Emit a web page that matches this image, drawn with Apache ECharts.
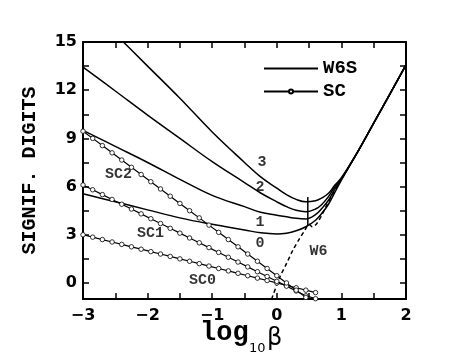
<!DOCTYPE html>
<html>
<head>
<meta charset="utf-8">
<script src="https://cdn.jsdelivr.net/npm/echarts@6/dist/echarts.min.js"></script>
<style>
  html, body { margin: 0; padding: 0; background: #fff; }
  #chart { width: 471px; height: 360px; }
</style>
</head>
<body>
<div id="chart"></div>
<script>
// x positions of the SC markers (log10 beta)
var xSC = [-3, -2.85, -2.7, -2.55, -2.4, -2.25, -2.1, -1.95, -1.8, -1.65, -1.5, -1.35, -1.2,
  -1.05, -0.9, -0.75, -0.6, -0.45, -0.3, -0.15, 0, 0.15, 0.3, 0.45, 0.6]
var sc0 = [3.0, 2.85, 2.7, 2.55, 2.4, 2.25, 2.1, 1.95, 1.8, 1.65, 1.5, 1.35, 1.2,
  1.05, 0.9, 0.75, 0.6, 0.45, 0.3, 0.15, 0.0, -0.15, -0.3, -0.45, -0.6]
var sc1 = [6.1, 5.8, 5.5, 5.2, 4.9, 4.6, 4.3, 4.0, 3.7, 3.4, 3.1, 2.8, 2.5,
  2.2, 1.9, 1.6, 1.3, 1.0, 0.7, 0.4, 0.1, -0.2, -0.5, -0.8, -0.98]
var sc2 = [9.45, 9.0, 8.55, 8.1, 7.65, 7.2, 6.75, 6.3, 5.85, 5.4, 4.95, 4.5, 4.05,
  3.6, 3.15, 2.7, 2.25, 1.8, 1.35, 0.9, 0.45, 0.0, -0.45, -0.9, null]

// W6S curves, order 0..3
var xW = [-3, -2.5, -2, -1.5, -1, -0.5, -0.25, 0, 0.15, 0.3, 0.45, 0.6, 0.7, 0.8, 0.9, 1.0, 1.25, 1.5, 1.75, 2.0]
var w6s0 = [5.55, 5.05, 4.55, 4.05, 3.65, 3.3, 3.12, 3.05, 3.1, 3.25, 3.5, 3.9, 4.35, 4.9, 5.65, 6.4, 8.15, 9.95, 11.75, 13.57]
var w6s1 = [9.5, 8.5, 7.5, 6.45, 5.45, 4.75, 4.4, 4.22, 4.12, 4.02, 3.98, 4.25, 4.65, 5.15, 5.85, 6.45, 8.15, 9.95, 11.75, 13.57]
var w6s2 = [13.44, 11.95, 10.45, 9.0, 7.55, 6.25, 5.6, 5.05, 4.75, 4.52, 4.43, 4.6, 4.9, 5.37, 6.0, 6.5, 8.15, 9.95, 11.75, 13.57]
var w6s3 = [17.5, 15.5, 13.5, 11.5, 9.4, 7.5, 6.6, 5.9, 5.5, 5.2, 5.05, 5.12, 5.3, 5.58, 6.1, 6.55, 8.15, 9.95, 11.75, 13.57]

// W6 (dashed)
var xW6 = [-0.08, 0.05, 0.15, 0.25, 0.35, 0.43, 0.5, 0.55, 0.62, 0.7, 0.78, 0.86, 0.95]
var w6 = [-1.0, 0.39, 1.2, 2.05, 2.75, 3.25, 3.65, 3.5, 3.7, 4.25, 4.9, 5.5, 6.1]

// vertical marker segment
var xMark = [0.48, 0.48]
var yMark = [3.6, 5.35]

// curve labels [x, y, text]
var curveLabels = [
  [-0.23, 7.53, '3'], [-0.26, 5.97, '2'], [-0.26, 3.75, '1'], [-0.26, 2.47, '0'],
  [0.645, 1.99, 'W6'], [-2.45, 6.78, 'SC2'], [-1.955, 3.11, 'SC1'], [-1.15, 0.19, 'SC0']
]

var xTicks = [-3, -2.5, -2, -1.5, -1, -0.5, 0, 0.5, 1, 1.5, 2]
var xLabels = [-3, -2, -1, 0, 1, 2]
var yTicks = [0, 1.5, 3, 4.5, 6, 7.5, 9, 10.5, 12, 13.5, 15]
var yLabels = [0, 3, 6, 9, 12, 15]

function pairs(xs, ys) {
  return xs.map(function (x, i) { return [x, ys[i]] })
}

var mono = '"Liberation Mono", "Courier New", monospace'
var sans = '"DejaVu Sans", sans-serif'

var chart = echarts.init(document.getElementById('chart'))

function w6sSeries(ys) {
  return {
    name: 'W6S',
    type: 'line',
    smooth: 0.4,
    symbol: 'none',
    itemStyle: { color: '#000' },
    lineStyle: { color: '#000', width: 1.5 },
    data: pairs(xW, ys)
  }
}

function scSeries(ys) {
  return {
    name: 'SC',
    type: 'line',
    symbol: 'circle',
    symbolSize: 4.5,
    itemStyle: { color: '#fff', borderColor: '#000', borderWidth: 0.8 },
    lineStyle: { color: '#000', width: 1.2 },
    data: pairs(xSC, ys)
  }
}

var frameTick = { show: true, inside: true, length: 6, lineStyle: { color: '#000', width: 1.5 } }
var frameLine = { show: true, onZero: false, lineStyle: { color: '#000', width: 2 } }

chart.setOption({
  animation: false,
  backgroundColor: '#fff',
  grid: { left: 83, right: 65, top: 42, bottom: 61 },
  legend: {
    data: [
      { name: 'W6S', itemStyle: { opacity: 0 } },
      { name: 'SC' }
    ],
    orient: 'vertical',
    left: 258,
    top: 54,
    itemWidth: 54,
    itemHeight: 5,
    itemGap: 4,
    textStyle: { fontFamily: mono, fontWeight: 'bold', fontSize: 19, color: '#000' }
  },
  xAxis: [{
    type: 'value', min: -3, max: 2,
    axisLine: frameLine,
    axisTick: Object.assign({ customValues: xTicks }, frameTick),
    axisLabel: {
      customValues: xLabels,
      margin: 9,
      fontFamily: sans, fontWeight: 'bold', fontSize: 16, color: '#000',
      formatter: function (v) { return String(v).replace('-', '\u2212') }
    },
    splitLine: { show: false }
  }, {
    type: 'value', min: -3, max: 2, position: 'top',
    axisLine: frameLine,
    axisTick: Object.assign({ customValues: xTicks }, frameTick),
    axisLabel: { show: false },
    splitLine: { show: false }
  }],
  yAxis: [{
    type: 'value', min: -1, max: 15,
    name: 'SIGNIF. DIGITS',
    nameLocation: 'middle',
    nameGap: 43,
    nameTextStyle: { fontFamily: mono, fontWeight: 'bold', fontSize: 20, color: '#000' },
    axisLine: frameLine,
    axisTick: Object.assign({ customValues: yTicks }, frameTick),
    axisLabel: {
      customValues: yLabels,
      margin: 6,
      fontFamily: sans, fontWeight: 'bold', fontSize: 16, color: '#000'
    },
    splitLine: { show: false }
  }, {
    type: 'value', min: -1, max: 15, position: 'right',
    axisLine: frameLine,
    axisTick: Object.assign({ customValues: yTicks }, frameTick),
    axisLabel: { show: false },
    splitLine: { show: false }
  }],
  graphic: [
    { type: 'text', left: 200, top: 320, style: { text: 'log', font: 'bold 27px ' + mono, fill: '#000' } },
    { type: 'text', left: 249, top: 342, style: { text: '10', font: '13px ' + sans, fill: '#000' } },
    { type: 'text', left: 267, top: 327, style: { text: '\u03b2', font: '24px ' + sans, fill: '#000' } }
  ],
  series: [
    w6sSeries(w6s0), w6sSeries(w6s1), w6sSeries(w6s2), w6sSeries(w6s3),
    scSeries(sc0), scSeries(sc1), scSeries(sc2),
    {
      name: 'W6', type: 'line', smooth: 0.3, symbol: 'none',
      lineStyle: { color: '#000', width: 1.5, type: [4, 3] },
      data: pairs(xW6, w6)
    },
    {
      name: 'mark', type: 'line', symbol: 'none',
      lineStyle: { color: '#000', width: 1.5 },
      data: pairs(xMark, yMark)
    },
    {
      name: 'labels', type: 'scatter', symbolSize: 0,
      label: {
        show: true, position: 'inside',
        fontFamily: mono, fontWeight: 'bold', fontSize: 15, color: '#000',
        formatter: function (p) { return p.data[2] }
      },
      data: curveLabels
    }
  ]
})
</script>
</body>
</html>
